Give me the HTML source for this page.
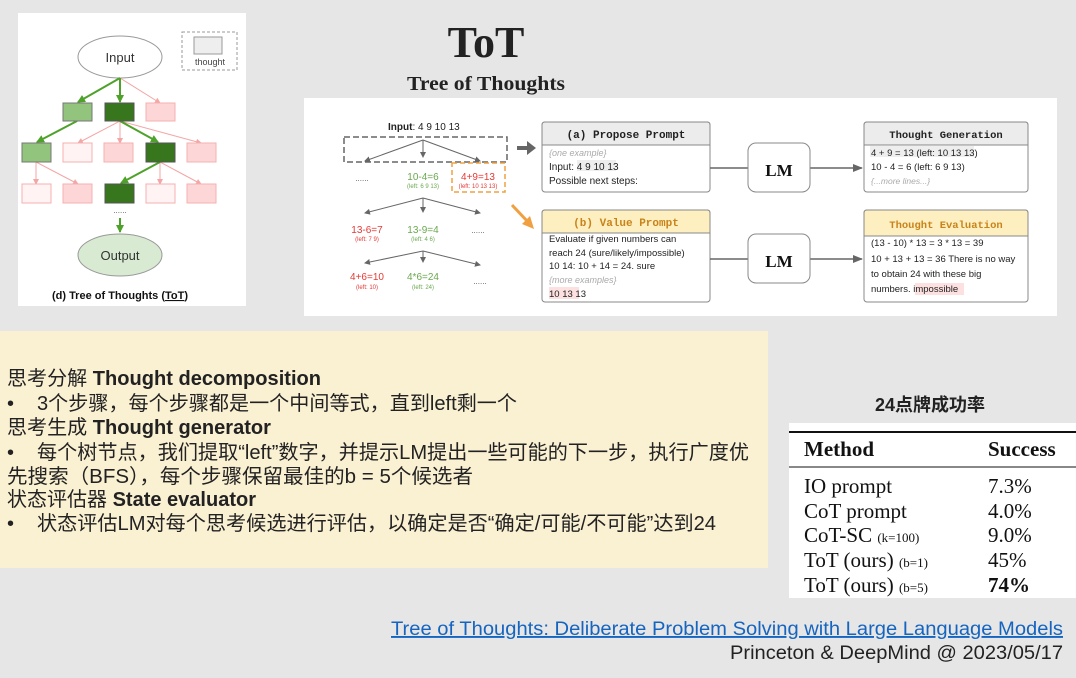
<!DOCTYPE html>
<html><head><meta charset="utf-8"><style>
html,body{margin:0;padding:0;background:#e6e6e6;}
svg{display:block;}
</style></head><body>
<svg width="1076" height="678" viewBox="0 0 1076 678" xmlns="http://www.w3.org/2000/svg" font-family="Liberation Sans, Noto Sans CJK SC, sans-serif">
<defs>
<marker id="ag" markerWidth="8" markerHeight="8" refX="7" refY="4" orient="auto" markerUnits="userSpaceOnUse"><path d="M0,0 L8,4 L0,8 z" fill="#4ea22a"/></marker>
<marker id="ap" markerWidth="6" markerHeight="6" refX="5" refY="3" orient="auto" markerUnits="userSpaceOnUse"><path d="M0,0 L6,3 L0,6 z" fill="#f4a6a6"/></marker>
<marker id="ak" markerWidth="6" markerHeight="6" refX="5" refY="3" orient="auto" markerUnits="userSpaceOnUse"><path d="M0,0 L6,3 L0,6 z" fill="#666"/></marker>
<marker id="ak2" markerWidth="10" markerHeight="8" refX="9" refY="4" orient="auto" markerUnits="userSpaceOnUse"><path d="M0,0 L10,4 L0,8 z" fill="#666"/></marker>
</defs>
<rect width="1076" height="678" fill="#e6e6e6"/>

<!-- Left panel -->
<rect x="18" y="13" width="228" height="293" fill="#fff"/>
<ellipse cx="120" cy="57" rx="42" ry="21" fill="#fff" stroke="#999"/>
<text x="120" y="62" font-size="13" text-anchor="middle" fill="#333">Input</text>
<rect x="182" y="32" width="55" height="38" fill="none" stroke="#999" stroke-dasharray="3,2"/>
<rect x="194" y="37" width="28" height="17" fill="#eee" stroke="#999"/>
<text x="210" y="65" font-size="9" text-anchor="middle" fill="#444">thought</text>
<g stroke-width="1">
<line x1="120" y1="78" x2="160" y2="103" stroke="#f4a6a6" marker-end="url(#ap)"/>
<line x1="120" y1="121" x2="78" y2="143" stroke="#f4a6a6" marker-end="url(#ap)"/>
<line x1="120" y1="121" x2="120" y2="143" stroke="#f4a6a6" marker-end="url(#ap)"/>
<line x1="120" y1="121" x2="201" y2="143" stroke="#f4a6a6" marker-end="url(#ap)"/>
<line x1="36" y1="162" x2="36" y2="184" stroke="#f4a6a6" marker-end="url(#ap)"/>
<line x1="36" y1="162" x2="78" y2="184" stroke="#f4a6a6" marker-end="url(#ap)"/>
<line x1="160" y1="162" x2="160" y2="184" stroke="#f4a6a6" marker-end="url(#ap)"/>
<line x1="160" y1="162" x2="201" y2="184" stroke="#f4a6a6" marker-end="url(#ap)"/>
</g>
<g stroke="#4ea22a" stroke-width="2">
<line x1="120" y1="78" x2="78" y2="102" marker-end="url(#ag)"/>
<line x1="120" y1="78" x2="120" y2="102" marker-end="url(#ag)"/>
<line x1="77" y1="121" x2="37" y2="142" marker-end="url(#ag)"/>
<line x1="120" y1="121" x2="158" y2="142" marker-end="url(#ag)"/>
<line x1="160" y1="162" x2="121" y2="183" marker-end="url(#ag)"/>
<line x1="120" y1="218" x2="120" y2="232" marker-end="url(#ag)"/>
</g>
<g>
<rect x="63" y="103" width="29" height="18" fill="#93c47d" stroke="#777"/>
<rect x="105" y="103" width="29" height="18" fill="#38761d" stroke="#555"/>
<rect x="146" y="103" width="29" height="18" fill="#fdd7d7" stroke="#f4b0b0"/>
<rect x="22" y="143" width="29" height="19" fill="#93c47d" stroke="#777"/>
<rect x="63" y="143" width="29" height="19" fill="#fff3f3" stroke="#f4b0b0"/>
<rect x="104" y="143" width="29" height="19" fill="#fdd7d7" stroke="#f4b0b0"/>
<rect x="146" y="143" width="29" height="19" fill="#38761d" stroke="#555"/>
<rect x="187" y="143" width="29" height="19" fill="#fdd7d7" stroke="#f4b0b0"/>
<rect x="22" y="184" width="29" height="19" fill="#fff3f3" stroke="#f4b0b0"/>
<rect x="63" y="184" width="29" height="19" fill="#fdd7d7" stroke="#f4b0b0"/>
<rect x="105" y="184" width="29" height="19" fill="#38761d" stroke="#555"/>
<rect x="146" y="184" width="29" height="19" fill="#fff3f3" stroke="#f4b0b0"/>
<rect x="187" y="184" width="29" height="19" fill="#fdd7d7" stroke="#f4b0b0"/>
</g>
<text x="120" y="213" font-size="8" text-anchor="middle" fill="#555">......</text>
<ellipse cx="120" cy="255" rx="42" ry="21" fill="#d9ead3" stroke="#999"/>
<text x="120" y="260" font-size="13" text-anchor="middle" fill="#333">Output</text>
<text x="120" y="299" font-size="11" font-weight="bold" text-anchor="middle" fill="#111">(d) Tree of Thoughts (<tspan text-decoration="underline">ToT</tspan>)</text>

<!-- Title -->
<text x="486" y="57" font-family="Liberation Serif, serif" font-size="44" font-weight="bold" text-anchor="middle" fill="#222">ToT</text>
<text x="486" y="90" font-family="Liberation Serif, serif" font-size="20" font-weight="bold" text-anchor="middle" fill="#222" textLength="158" lengthAdjust="spacingAndGlyphs">Tree of Thoughts</text>

<!-- Right panel -->
<rect x="304" y="98" width="753" height="218" fill="#fff"/>
<text x="388" y="130" font-size="10" fill="#222"><tspan font-weight="bold">Input</tspan>: 4 9 10 13</text>
<rect x="344" y="137" width="163" height="25" fill="none" stroke="#666" stroke-width="1.5" stroke-dasharray="6,3"/>
<g stroke="#666" stroke-width="1">
<line x1="423" y1="140" x2="365" y2="161" marker-end="url(#ak)"/>
<line x1="423" y1="140" x2="423" y2="157" marker-end="url(#ak)"/>
<line x1="423" y1="140" x2="480" y2="161" marker-end="url(#ak)"/>
<line x1="423" y1="198" x2="365" y2="213" marker-end="url(#ak)"/>
<line x1="423" y1="198" x2="423" y2="212" marker-end="url(#ak)"/>
<line x1="423" y1="198" x2="480" y2="213" marker-end="url(#ak)"/>
<line x1="423" y1="251" x2="365" y2="263" marker-end="url(#ak)"/>
<line x1="423" y1="251" x2="423" y2="262" marker-end="url(#ak)"/>
<line x1="423" y1="251" x2="480" y2="265" marker-end="url(#ak)"/>
</g>
<rect x="452" y="163" width="53" height="29" fill="none" stroke="#f0a040" stroke-width="1.5" stroke-dasharray="5,3"/>
<g text-anchor="middle">
<text x="362" y="181" font-size="8" fill="#555">......</text>
<text x="423" y="180" font-size="10" fill="#6aa84f">10-4=6</text>
<text x="423" y="188" font-size="6" fill="#6aa84f">(left: 6 9 13)</text>
<text x="478" y="180" font-size="10" fill="#e53935">4+9=13</text>
<text x="478" y="188" font-size="6" fill="#e53935">(left: 10 13 13)</text>
<text x="367" y="233" font-size="10" fill="#e53935">13-6=7</text>
<text x="367" y="241" font-size="6" fill="#e53935">(left: 7 9)</text>
<text x="423" y="233" font-size="10" fill="#6aa84f">13-9=4</text>
<text x="423" y="241" font-size="6" fill="#6aa84f">(left: 4 6)</text>
<text x="478" y="233" font-size="8" fill="#555">......</text>
<text x="367" y="280" font-size="10" fill="#e53935">4+6=10</text>
<text x="367" y="289" font-size="6" fill="#e53935">(left: 10)</text>
<text x="423" y="280" font-size="10" fill="#6aa84f">4*6=24</text>
<text x="423" y="289" font-size="6" fill="#6aa84f">(left: 24)</text>
<text x="480" y="284" font-size="8" fill="#555">......</text>
</g>
<path d="M517,146 L527,146 L527,141 L536,148 L527,155 L527,150 L517,150 z" fill="#666"/>
<line x1="512" y1="205" x2="528" y2="222" stroke="#f0a040" stroke-width="3"/>
<path d="M534,229 L522,224 L530,216 z" fill="#f0a040"/>

<!-- (a) box -->
<rect x="542" y="122" width="168" height="70" rx="3" fill="#fff" stroke="#888"/>
<path d="M542,145 L542,125 Q542,122 545,122 L707,122 Q710,122 710,125 L710,145 z" fill="#ececec" stroke="#888"/>
<text x="626" y="138" font-family="Liberation Mono, monospace" font-size="11" font-weight="bold" text-anchor="middle" fill="#222">(a) Propose Prompt</text>
<text x="549" y="156" font-size="9" font-style="italic" fill="#aaa">{one example}</text>
<rect x="577" y="160" width="39" height="11" fill="#eee"/>
<text x="549" y="170" font-size="10" fill="#222">Input: 4 9 10 13</text>
<text x="549" y="184" font-size="10" fill="#222">Possible next steps:</text>

<!-- (b) box -->
<rect x="542" y="210" width="168" height="92" rx="3" fill="#fff" stroke="#888"/>
<path d="M542,233 L542,213 Q542,210 545,210 L707,210 Q710,210 710,213 L710,233 z" fill="#fdefc0" stroke="#888"/>
<text x="626" y="226" font-family="Liberation Mono, monospace" font-size="11" font-weight="bold" text-anchor="middle" fill="#c9831a">(b) Value Prompt</text>
<text x="549" y="242" font-size="9.5" fill="#222">Evaluate if given numbers can</text>
<text x="549" y="256" font-size="9.5" fill="#222">reach 24 (sure/likely/impossible)</text>
<text x="549" y="269" font-size="9.5" fill="#222">10 14: 10 + 14 = 24. sure</text>
<text x="549" y="283" font-size="9" font-style="italic" fill="#aaa">{more examples}</text>
<rect x="549" y="287" width="30" height="12" fill="#fde0e0"/>
<text x="549" y="297" font-size="9.5" fill="#222">10 13 13</text>

<!-- connectors and LM -->
<g stroke="#666" stroke-width="1.5">
<line x1="710" y1="168" x2="748" y2="168"/>
<line x1="710" y1="259" x2="748" y2="259"/>
<line x1="810" y1="168" x2="862" y2="168" marker-end="url(#ak2)"/>
<line x1="810" y1="259" x2="862" y2="259" marker-end="url(#ak2)"/>
</g>
<rect x="748" y="143" width="62" height="49" rx="8" fill="#fff" stroke="#888"/>
<text x="779" y="176" font-family="Liberation Serif, serif" font-size="17" font-weight="bold" text-anchor="middle" fill="#111">LM</text>
<rect x="748" y="234" width="62" height="49" rx="8" fill="#fff" stroke="#888"/>
<text x="779" y="267" font-family="Liberation Serif, serif" font-size="17" font-weight="bold" text-anchor="middle" fill="#111">LM</text>

<!-- Thought Generation -->
<rect x="864" y="122" width="164" height="70" rx="3" fill="#fff" stroke="#888"/>
<path d="M864,145 L864,125 Q864,122 867,122 L1025,122 Q1028,122 1028,125 L1028,145 z" fill="#ececec" stroke="#888"/>
<text x="946" y="138" font-family="Liberation Mono, monospace" font-size="10.5" font-weight="bold" text-anchor="middle" fill="#222">Thought Generation</text>
<rect x="870" y="146" width="104" height="11" fill="#eee"/>
<text x="871" y="156" font-size="9.5" fill="#222">4 + 9 = 13 (left: 10 13 13)</text>
<text x="871" y="170" font-size="9.5" fill="#222">10 - 4 = 6 (left: 6 9 13)</text>
<text x="871" y="184" font-size="8.5" font-style="italic" fill="#aaa">{...more lines...}</text>

<!-- Thought Evaluation -->
<rect x="864" y="210" width="164" height="92" rx="3" fill="#fff" stroke="#888"/>
<path d="M864,236 L864,213 Q864,210 867,210 L1025,210 Q1028,210 1028,213 L1028,236 z" fill="#fdefc0" stroke="#888"/>
<text x="946" y="228" font-family="Liberation Mono, monospace" font-size="10.5" font-weight="bold" text-anchor="middle" fill="#c9831a">Thought Evaluation</text>
<text x="871" y="246" font-size="9.5" fill="#222">(13 - 10) * 13 = 3 * 13 = 39</text>
<text x="871" y="262" font-size="9.5" fill="#222">10 + 13 + 13 = 36 There is no way</text>
<text x="871" y="277" font-size="9.5" fill="#222">to obtain 24 with these big</text>
<rect x="915" y="283" width="49" height="12" fill="#fde0e0"/>
<text x="871" y="292" font-size="9.5" fill="#222">numbers. impossible</text>

<!-- Yellow text box -->
<rect x="0" y="331" width="768" height="237" fill="#faf0d2"/>
<g font-size="20" fill="#222">
<text x="7" y="385" textLength="314" lengthAdjust="spacingAndGlyphs"><tspan>思考分解 </tspan><tspan font-weight="bold">Thought decomposition</tspan></text>
<text x="7" y="410">•</text><text x="37" y="410" textLength="480" lengthAdjust="spacingAndGlyphs">3个步骤，每个步骤都是一个中间等式，直到left剩一个</text>
<text x="7" y="434" textLength="264" lengthAdjust="spacingAndGlyphs"><tspan>思考生成 </tspan><tspan font-weight="bold">Thought generator</tspan></text>
<text x="7" y="459">•</text><text x="37" y="459" textLength="712" lengthAdjust="spacingAndGlyphs">每个树节点，我们提取“left”数字，并提示LM提出一些可能的下一步，执行广度优</text>
<text x="7" y="483" textLength="466" lengthAdjust="spacingAndGlyphs">先搜索（BFS），每个步骤保留最佳的b = 5个候选者</text>
<text x="7" y="506" textLength="249" lengthAdjust="spacingAndGlyphs"><tspan>状态评估器 </tspan><tspan font-weight="bold">State evaluator</tspan></text>
<text x="7" y="530">•</text><text x="37" y="530" textLength="679" lengthAdjust="spacingAndGlyphs">状态评估LM对每个思考候选进行评估，以确定是否“确定/可能/不可能”达到24</text>
</g>

<!-- Table -->
<text x="930" y="411" font-size="18" font-weight="bold" text-anchor="middle" fill="#222">24点牌成功率</text>
<rect x="789" y="423" width="287" height="175" fill="#fff"/>
<line x1="789" y1="432" x2="1076" y2="432" stroke="#111" stroke-width="2"/>
<line x1="789" y1="467" x2="1076" y2="467" stroke="#111" stroke-width="1"/>
<g font-family="Liberation Serif, serif" fill="#111">
<text x="804" y="456" font-size="21" font-weight="bold">Method</text>
<text x="988" y="456" font-size="21" font-weight="bold">Success</text>
<g font-size="21">
<text x="804" y="493">IO prompt</text><text x="988" y="493">7.3%</text>
<text x="804" y="518">CoT prompt</text><text x="988" y="518">4.0%</text>
<text x="804" y="542">CoT-SC <tspan font-size="13">(k=100)</tspan></text><text x="988" y="542">9.0%</text>
<text x="804" y="567">ToT (ours) <tspan font-size="13">(b=1)</tspan></text><text x="988" y="567">45%</text>
<text x="804" y="592">ToT (ours) <tspan font-size="13">(b=5)</tspan></text><text x="988" y="592" font-weight="bold">74%</text>
</g>
</g>

<!-- Footer -->
<text x="1063" y="635" font-size="19" text-anchor="end" fill="#1565c0" text-decoration="underline" textLength="672" lengthAdjust="spacingAndGlyphs">Tree of Thoughts: Deliberate Problem Solving with Large Language Models</text>
<text x="1063" y="659" font-size="19" text-anchor="end" fill="#222" textLength="333" lengthAdjust="spacingAndGlyphs">Princeton &amp; DeepMind @ 2023/05/17</text>
</svg>
</body></html>
